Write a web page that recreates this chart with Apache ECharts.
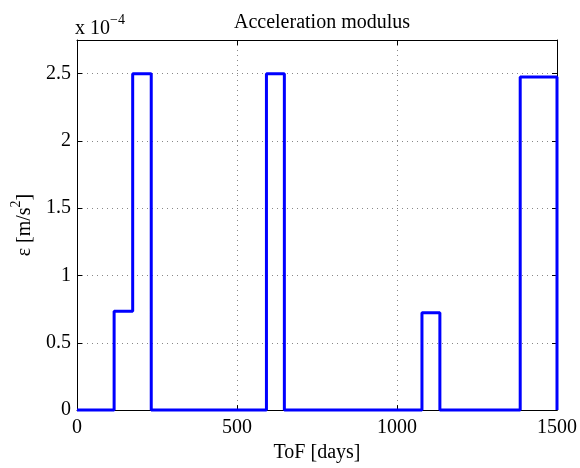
<!DOCTYPE html>
<html>
<head>
<meta charset="utf-8">
<script src="https://cdn.jsdelivr.net/npm/echarts@6/dist/echarts.min.js"></script>
<style>
html,body{margin:0;padding:0;background:#fff;}
#chart{width:580px;height:468px;}
</style>
</head>
<body>
<div id="chart"></div>
<script>
// ToF (days) where the thrust level changes
var tofDays = [0, 116, 174, 232, 592, 648, 1078, 1134, 1385, 1500];
// acceleration level (x 1e-4 m/s^2) holding from each change point until the next
var accelLevels = [0, 0.735, 2.5, 0, 2.5, 0, 0.723, 0, 2.475, 0];
var xTicks = [0, 500, 1000, 1500];
var yTicks = [0, 0.5, 1, 1.5, 2, 2.5];

var points = tofDays.map(function (d, i) { return [d, accelLevels[i]]; });

var font = 'Liberation Serif, Times New Roman, serif';
var chart = echarts.init(document.getElementById('chart'), null, {renderer: 'canvas'});

function boxAxis(extra) {
  var a = {
    type: 'value',
    axisLine: {show: true, onZero: false, lineStyle: {color: '#000', width: 1}},
    axisTick: {show: true, inside: true, length: 5, lineStyle: {color: '#000'}},
    axisLabel: {show: false},
    splitLine: {show: false}
  };
  for (var k in extra) a[k] = extra[k];
  return a;
}

chart.setOption({
  animation: false,
  backgroundColor: '#fff',
  title: {
    text: 'Acceleration modulus',
    left: 317, top: 8, textAlign: 'center',
    textStyle: {fontFamily: font, fontSize: 20, fontWeight: 'normal', color: '#000'}
  },
  grid: {left: 77, right: 23, top: 40, bottom: 55, show: false},
  xAxis: [{
    type: 'value', min: 0, max: 1500, interval: 500,
    name: 'ToF [days]', nameLocation: 'middle', nameGap: 31,
    nameTextStyle: {fontFamily: font, fontSize: 20, color: '#000'},
    axisLine: {show: true, onZero: false, lineStyle: {color: '#000', width: 1}},
    axisTick: {show: true, inside: true, length: 5, lineStyle: {color: '#000'}},
    axisLabel: {fontFamily: font, fontSize: 20, color: '#000', margin: 8,
      formatter: function (v) { return xTicks.indexOf(v) >= 0 ? String(v) : ''; }},
    splitLine: {show: true, lineStyle: {color: '#888', type: [1, 4], width: 1}}
  }, boxAxis({position: 'top', min: 0, max: 1500, interval: 500})],
  yAxis: [{
    type: 'value', min: 0, max: 2.75, interval: 0.5,
    name: '{a|ε [m/s}{b|2}{a|]}', nameLocation: 'middle', nameGap: 42,
    nameTextStyle: {fontFamily: font, fontSize: 20, color: '#000',
      rich: {
        a: {fontFamily: font, fontSize: 20, color: '#000', verticalAlign: 'bottom', padding: [6, 0, 0, 0]},
        b: {fontFamily: font, fontSize: 14, color: '#000', verticalAlign: 'top'}
      }},
    axisLine: {show: true, onZero: false, lineStyle: {color: '#000', width: 1}},
    axisTick: {show: true, inside: true, length: 5, lineStyle: {color: '#000'}},
    axisLabel: {fontFamily: font, fontSize: 20, color: '#000', margin: 6, showMaxLabel: false,
      formatter: function (v) { return yTicks.indexOf(v) >= 0 ? String(v) : ''; }},
    splitLine: {show: true, lineStyle: {color: '#888', type: [1, 4], width: 1}}
  }, boxAxis({position: 'right', min: 0, max: 2.75, interval: 0.5})],
  graphic: [{
    type: 'text', left: 75, top: 13,
    style: {
      text: '{a|x 10}{b|−4}',
      rich: {
        a: {fontFamily: font, fontSize: 20, fill: '#000', verticalAlign: 'bottom', padding: [6, 0, 0, 0]},
        b: {fontFamily: font, fontSize: 14, fill: '#000', verticalAlign: 'top'}
      }
    }
  }],
  series: [{
    type: 'line', step: 'end', data: points, showSymbol: false,
    lineStyle: {color: '#0000ff', width: 3}, z: 5, clip: false
  }]
});
</script>
</body>
</html>
